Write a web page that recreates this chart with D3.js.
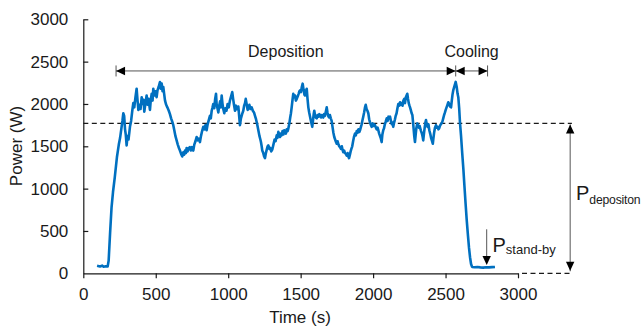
<!DOCTYPE html>
<html><head><meta charset="utf-8">
<script src="https://cdn.jsdelivr.net/npm/d3@7"></script>
<style>
html,body{margin:0;padding:0;background:#fff;}
svg{display:block;font-family:"Liberation Sans",Arial,sans-serif;}
</style></head>
<body><svg id="c" width="644" height="328"></svg>
<script>
const xTicks = [0,500,1000,1500,2000,2500,3000];
const yTicks = [0,500,1000,1500,2000,2500,3000];
const xLabel = "Time (s)";
const yLabel = "Power (W)";
const times = [95,115,130,140,155,168,175,185,195,205,217,232,245,254,262,270,276,282,288,293,299,305,312,322,330,338,345,352,360,368,374,380,388,395,403,410,416,421,428,437,444,450,460,466,472,478,483,490,498,506,512,520,529,535,541,547,552,558,564,572,580,590,598,606,614,621,628,636,644,652,660,667,675,683,690,696,702,708,713,720,728,736,742,750,759,766,774,782,790,797,805,812,820,828,836,843,851,858,866,874,880,886,892,897,904,910,916,920,926,932,938,944,949,955,960,966,973,980,988,996,1004,1012,1020,1028,1034,1040,1047,1054,1062,1070,1076,1081,1088,1096,1104,1110,1116,1121,1128,1134,1139,1146,1154,1162,1170,1178,1185,1192,1200,1208,1216,1222,1226,1231,1235,1242,1248,1254,1260,1266,1272,1277,1284,1290,1297,1304,1312,1320,1327,1335,1340,1346,1352,1358,1363,1369,1375,1381,1387,1392,1398,1404,1410,1415,1422,1428,1433,1438,1444,1449,1455,1461,1467,1473,1480,1486,1491,1496,1502,1508,1514,1520,1526,1530,1536,1542,1547,1553,1559,1565,1571,1576,1580,1585,1590,1594,1600,1605,1611,1617,1623,1629,1634,1640,1646,1651,1656,1662,1668,1674,1680,1685,1690,1696,1702,1708,1714,1720,1726,1732,1738,1744,1749,1755,1761,1766,1772,1778,1784,1789,1794,1800,1806,1812,1818,1824,1829,1834,1840,1845,1850,1856,1862,1868,1875,1881,1887,1893,1899,1905,1910,1916,1921,1927,1932,1938,1944,1949,1955,1961,1967,1973,1979,1985,1990,1996,2002,2008,2013,2019,2025,2031,2036,2042,2048,2054,2059,2064,2070,2075,2081,2087,2094,2100,2106,2111,2117,2123,2129,2134,2139,2145,2151,2156,2162,2168,2174,2180,2186,2191,2197,2203,2209,2215,2220,2226,2231,2236,2241,2246,2251,2255,2260,2266,2271,2276,2280,2284,2289,2294,2299,2305,2310,2316,2321,2326,2331,2337,2341,2346,2351,2356,2361,2365,2370,2376,2382,2388,2394,2400,2407,2412,2416,2421,2427,2434,2440,2446,2451,2455,2461,2467,2472,2478,2484,2490,2496,2501,2507,2513,2519,2525,2531,2538,2543,2548,2553,2558,2563,2570,2577,2583,2588,2594,2600,2607,2615,2623,2630,2638,2646,2655,2662,2669,2676,2683,2700,2720,2740,2760,2780,2800,2820,2841];
const power = [88,80,90,78,84,80,150,480,780,960,1130,1370,1520,1600,1700,1800,1890,1860,1700,1640,1510,1620,1580,1730,1800,1920,2010,1960,2080,2180,2050,1930,1990,1940,2080,2000,2050,1910,2000,2100,1990,2060,1930,2050,2120,2040,2180,2100,2150,2080,2160,2200,2260,2180,2240,2150,2200,2120,2040,1990,1960,1920,1880,1830,1790,1750,1690,1620,1570,1520,1480,1450,1410,1380,1430,1400,1450,1420,1480,1440,1480,1490,1450,1490,1450,1520,1560,1610,1570,1590,1550,1620,1680,1730,1700,1750,1690,1760,1810,1860,1830,1920,1960,2000,1950,2060,2120,2000,1950,1900,1980,2030,1960,2100,2010,1940,1890,1950,1920,2000,1960,2040,2090,2140,2060,1990,1920,1980,1940,1970,1850,1750,1830,1880,1920,1980,2010,2060,1990,1930,1950,1990,1940,1960,1920,1900,1860,1820,1760,1690,1620,1580,1550,1500,1450,1420,1380,1360,1420,1460,1500,1510,1470,1480,1440,1460,1520,1580,1560,1630,1600,1670,1640,1610,1650,1630,1680,1640,1690,1670,1650,1700,1680,1710,1770,1840,1890,1960,2050,2120,2080,2100,2040,2060,2090,2120,2150,2160,2140,2200,2240,2170,2110,2100,2150,2180,2070,1960,1900,1850,1800,1760,1730,1800,1880,1920,1860,1840,1830,1870,1850,1880,1860,1840,1870,1850,1840,1880,1860,1910,1960,1900,1860,1840,1870,1830,1800,1730,1660,1610,1580,1550,1530,1560,1520,1500,1490,1470,1500,1460,1430,1450,1420,1410,1390,1420,1380,1360,1400,1440,1470,1500,1560,1610,1650,1630,1680,1660,1700,1670,1690,1730,1760,1810,1850,1900,1960,1990,1940,1920,1890,1820,1780,1750,1730,1770,1740,1760,1750,1720,1700,1720,1690,1650,1620,1590,1550,1640,1690,1710,1760,1790,1830,1800,1850,1830,1850,1800,1760,1780,1730,1780,1820,1860,1890,1950,2000,1980,2020,1990,2010,1980,2040,2060,2010,2080,2100,2120,2060,2010,1980,1960,1930,1890,1870,1780,1700,1620,1550,1640,1720,1770,1750,1720,1740,1710,1680,1650,1620,1570,1650,1720,1780,1810,1760,1730,1760,1690,1650,1600,1560,1530,1590,1660,1720,1750,1720,1730,1700,1710,1740,1760,1770,1790,1830,1870,1900,1930,1960,1990,2020,2000,1970,1960,2040,2110,2160,2190,2220,2260,2200,2120,2080,1950,1770,1620,1420,1230,1040,830,630,440,300,190,110,75,72,75,70,67,72,70,73,75];

// annotation values (data units)
const depStart = 226, depEnd = 2570, coolEnd = 2790, arrowLevel = 2390;
const pDeposition = 1770, pStandby = 70, dashEndT = 3372, pDepArrowT = 3360, standbyArrowT = 2784;

const svg = d3.select("#c");
const x = d3.scaleLinear().domain([0,3000]).range([83.3,518]);
const y = d3.scaleLinear().domain([0,3000]).range([273.3,19.3]);
const ink = "#1a1a1a";

// x axis
const gx = svg.append("g").attr("transform","translate(0,273.3)")
  .call(d3.axisBottom(x).tickValues(xTicks).tickSize(5).tickSizeOuter(0).tickPadding(10).tickFormat(d3.format("d")));
// y axis (ticks inside)
const gy = svg.append("g").attr("transform","translate(83.3,0)")
  .call(d3.axisRight(y).tickValues(yTicks).tickSize(5).tickSizeOuter(0).tickFormat(d3.format("d")));
gy.selectAll(".tick text").attr("x",-15).attr("text-anchor","end");
[gx,gy].forEach(g=>{
  g.selectAll("path,line").attr("stroke",ink).attr("stroke-width",1.2);
  g.selectAll("text").attr("fill",ink).style("font-size","17px").style("font-family","'Liberation Sans',Arial,sans-serif");
});
gy.select(".tick line").filter(d=>d===0).remove();

// axis titles
svg.append("text").attr("x",300).attr("y",323).attr("text-anchor","middle")
  .attr("fill",ink).style("font-size","17px").text(xLabel);
svg.append("text").attr("transform","translate(21.5,146) rotate(-90)").attr("text-anchor","middle")
  .attr("fill",ink).style("font-size","17px").text(yLabel);

// dashed reference lines
svg.append("line").attr("x1",x(0)).attr("x2",x(dashEndT)).attr("y1",y(pDeposition)).attr("y2",y(pDeposition))
  .attr("stroke",ink).attr("stroke-width",1.2).attr("stroke-dasharray","5,3.5");
svg.append("line").attr("x1",x(3000)+4).attr("x2",x(dashEndT)).attr("y1",y(0)).attr("y2",y(0))
  .attr("stroke",ink).attr("stroke-width",1.2).attr("stroke-dasharray","5,3.5");

// data line
const line = d3.line().x((d,i)=>x(times[i])).y((d,i)=>y(power[i]));
svg.append("path").datum(power).attr("d",line).attr("fill","none")
  .attr("stroke","#0070C0").attr("stroke-width",2.6).attr("stroke-linejoin","round");

// arrow helpers
function head(tx,ty,dir){ // dir: 'l','r','u','d'
  const L=9,H=4.2; let p;
  if(dir==='r') p=[[tx,ty],[tx-L,ty-H],[tx-L,ty+H]];
  if(dir==='l') p=[[tx,ty],[tx+L,ty-H],[tx+L,ty+H]];
  if(dir==='u') p=[[tx,ty],[tx-H,ty+L],[tx+H,ty+L]];
  if(dir==='d') p=[[tx,ty],[tx-H,ty-L],[tx+H,ty-L]];
  svg.append("path").attr("d","M"+p.map(q=>q.join(",")).join("L")+"Z").attr("fill","#000");
}
const gray="#555";
const ay = y(arrowLevel);
svg.append("line").attr("x1",x(depStart)).attr("x2",x(coolEnd)).attr("y1",ay).attr("y2",ay).attr("stroke",gray).attr("stroke-width",1);
[depStart,depEnd,coolEnd].forEach(t=>svg.append("line").attr("x1",x(t)).attr("x2",x(t)).attr("y1",ay-5.5).attr("y2",ay+5.5).attr("stroke",gray).attr("stroke-width",1));
head(x(depStart),ay,'l'); head(x(depEnd),ay,'r'); head(x(depEnd),ay,'l'); head(x(coolEnd),ay,'r');
svg.append("text").attr("x",(x(depStart)+x(depEnd))/2).attr("y",56.5).attr("text-anchor","middle").attr("fill",ink).style("font-size","16px").text("Deposition");
svg.append("text").attr("x",(x(depEnd)+x(coolEnd))/2).attr("y",56.5).attr("text-anchor","middle").attr("fill",ink).style("font-size","16px").text("Cooling");

// P deposition double arrow
const px = x(pDepArrowT);
svg.append("line").attr("x1",px).attr("x2",px).attr("y1",y(pDeposition)+1).attr("y2",y(0)-2).attr("stroke",gray).attr("stroke-width",1);
head(px,y(pDeposition)+1,'u'); head(px,y(0)-2.5,'d');
const t1 = svg.append("text").attr("x",576).attr("y",200).attr("fill",ink).style("font-size","20px");
t1.append("tspan").text("P");
t1.append("tspan").attr("dy",3.5).style("font-size","12.2px").style("letter-spacing","-0.2px").text("depositon");

// P stand-by arrow
const sx = x(standbyArrowT);
svg.append("line").attr("x1",sx).attr("x2",sx).attr("y1",229.3).attr("y2",262).attr("stroke",gray).attr("stroke-width",1);
head(sx,265,'d');
const t2 = svg.append("text").attr("x",492.5).attr("y",251.7).attr("fill",ink).style("font-size","20px");
t2.append("tspan").text("P");
t2.append("tspan").attr("dy",2.5).style("font-size","13px").text("stand-by");
</script></body></html>
